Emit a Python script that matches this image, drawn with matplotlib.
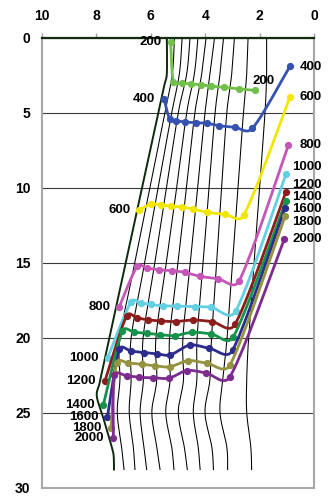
import numpy as np
import matplotlib
matplotlib.use("Agg")
import matplotlib.pyplot as plt

plt.rcParams['font.family'] = ['Liberation Sans', 'DejaVu Sans']
plt.rcParams['font.weight'] = 'bold'

# ---- free-surface curves (x position, depth) for each elapsed time ----
days = [200, 400, 600, 800, 1000, 1200, 1400, 1600, 1800, 2000]

x200 = [5.27, 5.17, 4.86, 4.52, 4.17, 3.80, 3.32, 2.77, 2.17]
d200 = [0.27, 2.93, 3.03, 3.07, 3.15, 3.22, 3.31, 3.42, 3.51]

x400 = [5.51, 5.30, 5.07, 4.74, 4.34, 3.93, 3.49, 2.92, 2.27, 0.89]
d400 = [4.11, 5.45, 5.55, 5.62, 5.67, 5.71, 5.87, 5.97, 6.04, 1.89]

x600 = [6.42, 5.98, 5.63, 5.26, 4.87, 4.45, 3.93, 3.29, 2.59, 0.89]
d600 = [11.50, 11.08, 11.15, 11.23, 11.29, 11.43, 11.65, 11.77, 11.85, 3.93]

x800 = [7.15, 6.50, 6.14, 5.69, 5.23, 4.74, 4.21, 3.55, 2.76, 0.95]
d800 = [17.93, 15.25, 15.37, 15.47, 15.54, 15.65, 15.91, 16.07, 16.23, 7.15]

x1000 = [7.58, 6.72, 6.36, 6.00, 5.56, 5.02, 4.39, 3.78, 2.89, 1.04]
d1000 = [21.35, 17.60, 17.69, 17.79, 17.88, 17.90, 17.93, 17.98, 18.25, 9.09]

x1200 = [7.68, 6.88, 6.49, 6.09, 5.62, 5.09, 4.44, 3.76, 2.91, 1.04]
d1200 = [22.89, 18.53, 18.69, 18.82, 18.89, 18.93, 18.83, 18.93, 19.12, 10.27]

x1400 = [7.74, 7.04, 6.60, 6.15, 5.67, 5.12, 4.48, 3.79, 2.97, 1.04]
d1400 = [24.49, 19.55, 19.64, 19.71, 19.80, 19.87, 19.65, 19.75, 19.95, 10.87]

x1600 = [7.59, 7.15, 6.72, 6.25, 5.78, 5.28, 4.56, 3.85, 3.00, 1.07]
d1600 = [25.27, 20.77, 20.90, 21.00, 21.08, 21.15, 20.50, 20.72, 20.85, 11.33]

x1800 = [7.46, 7.25, 6.82, 6.33, 5.84, 5.30, 4.63, 3.95, 3.09, 1.07]
d1800 = [26.04, 21.67, 21.70, 21.78, 21.88, 21.95, 21.54, 21.70, 21.82, 11.89]

x2000 = [7.37, 7.34, 6.88, 6.42, 5.90, 5.32, 4.68, 3.99, 3.09, 1.10]
d2000 = [26.67, 22.52, 22.55, 22.65, 22.68, 22.70, 22.20, 22.35, 22.60, 13.42]

# ---- embankment face ----
face_x = [5.41, 5.41, 5.506, 6.557, 7.872, 7.98, 7.75, 7.43, 7.36, 7.35]
face_d = [0.0, 2.4, 3.2, 12.0, 23.0, 23.9, 25.3, 27.3, 27.9, 28.8]

# ---- deformed mesh lines: x position of each line at the listed depths ----
mesh_d = [0.0, 2.4, 5.0, 10.0, 15.0, 20.0, 22.8, 25.0, 27.3, 28.8]
mesh_x = [
    [5.13, 5.21, 5.48, 6.03, 6.58, 7.13, 7.13, 7.23, 7.07, 6.98],
    [4.85, 4.95, 5.23, 5.73, 6.22, 6.72, 6.72, 6.79, 6.64, 6.58],
    [4.56, 4.68, 4.99, 5.42, 5.85, 6.28, 6.27, 6.39, 6.25, 6.15],
    [4.27, 4.40, 4.68, 5.05, 5.43, 5.81, 5.78, 5.96, 5.78, 5.66],
    [3.97, 4.13, 4.38, 4.69, 5.00, 5.31, 5.29, 5.45, 5.23, 5.15],
    [3.66, 3.83, 4.01, 4.28, 4.55, 4.82, 4.80, 4.99, 4.77, 4.66],
    [3.33, 3.46, 3.64, 3.86, 4.08, 4.30, 4.31, 4.44, 4.26, 4.19],
    [2.93, 3.03, 3.21, 3.40, 3.58, 3.77, 3.83, 4.01, 3.76, 3.70],
    [2.43, 2.48, 2.60, 2.80, 3.00, 3.20, 3.36, 3.46, 3.21, 3.18],
    [1.75, 1.75, 1.81, 2.01, 2.21, 2.41, 2.48, 2.48, 2.33, 2.30],
]

x_ticks = [10, 8, 6, 4, 2, 0]
y_ticks = [0, 5, 10, 15, 20, 25, 30]

series_x = [x200, x400, x600, x800, x1000, x1200, x1400, x1600, x1800, x2000]
series_d = [d200, d400, d600, d800, d1000, d1200, d1400, d1600, d1800, d2000]
colors = ['#72c04c', '#3552b0', '#f3e600', '#c457b8', '#62d0e2',
          '#8c1d1d', '#16924a', '#2c2b8e', '#959240', '#7e2b90']
# vertical placement of the right-hand time labels (depth units)
right_label_d = [None, 1.93, 3.97, 7.15, 8.64, 9.82, 10.64, 11.42, 12.27, 13.42]

# approximate screen scale of one data unit (pixels), used for smoothing
SX, SY = 27.26, 15.0


def smooth(xs, ys, n=20):
    """Bezier smoothing through every point; handles are limited to half
    of the adjacent segment so long legs only overshoot slightly."""
    p = np.column_stack([np.asarray(xs, float) * SX, np.asarray(ys, float) * SY])
    m = len(p)
    tang = np.zeros_like(p)
    for i in range(m):
        a = p[max(i - 1, 0)]
        b = p[min(i + 1, m - 1)]
        tang[i] = (b - a) / 6.0
    t = np.linspace(0, 1, n, endpoint=False)[:, None]
    out = []
    for i in range(m - 1):
        p1, p2 = p[i], p[i + 1]
        seg = np.linalg.norm(p2 - p1)
        t1, t2 = tang[i].copy(), tang[i + 1].copy()
        for tv in (t1, t2):
            L = np.linalg.norm(tv)
            if L > seg / 2.0 and L > 0:
                tv *= (seg / 2.0) / L
        c1 = p1 + t1
        c2 = p2 - t2
        out.append((1 - t) ** 3 * p1 + 3 * (1 - t) ** 2 * t * c1
                   + 3 * (1 - t) * t ** 2 * c2 + t ** 3 * p2)
    out.append(p[-1][None, :])
    out = np.vstack(out)
    return out[:, 0] / SX, out[:, 1] / SY


fig = plt.figure(figsize=(3.34, 4.97), dpi=100)
ax = fig.add_axes([0.1249, 0.0191, 0.8162, 0.905])
ax.set_xlim(10, 0)
ax.set_ylim(30, 0)

# horizontal grid
ax.set_yticks(y_ticks)
ax.set_xticks(x_ticks)
ax.yaxis.grid(True, color='#3a3a3a', lw=0.8)
ax.set_axisbelow(True)

ax.xaxis.tick_top()
ax.tick_params(axis='x', direction='out', length=3.8, width=1.0,
               color='#a0a0a0', pad=6.5, labelsize=10)
ax.tick_params(axis='y', length=0, pad=8, labelsize=10)
for lab in ax.get_xticklabels() + ax.get_yticklabels():
    lab.set_fontweight('bold')

for side in ['left', 'right', 'bottom']:
    ax.spines[side].set_color('#a8a8a8')
    ax.spines[side].set_linewidth(1.5)
ax.spines['top'].set_color('#142c12')
ax.spines['top'].set_linewidth(1.6)

# mesh lines
for mx in mesh_x:
    sx, sy = smooth(mx, mesh_d)
    ax.plot(sx, sy, color='black', lw=0.75, zorder=2)

# embankment face
fx, fy = smooth(face_x, face_d)
ax.plot(fx, fy, color='#0c2a0c', lw=1.4, zorder=3)

# free-surface curves
LABEL_FS = 9.5
for k, (xs, ds, c, day) in enumerate(zip(series_x, series_d, colors, days)):
    sx, sy = smooth(xs, ds)
    ax.plot(sx, sy, color=c, lw=2.0, zorder=4 + k, solid_capstyle='round')
    ax.plot(xs, ds, 'o', color=c, ms=4.2, zorder=4 + k)
    ax.annotate(str(day), (xs[0], ds[0]), xytext=(-6.5, 0),
                textcoords='offset points', ha='right', va='center',
                fontsize=LABEL_FS, fontweight='bold', annotation_clip=False)
    if right_label_d[k] is None:
        ax.annotate(str(day), (xs[-1], ds[-1]), xytext=(6, 6.9),
                    textcoords='offset points', ha='center', va='center',
                    fontsize=LABEL_FS, fontweight='bold', annotation_clip=False)
    else:
        ax.text(1.028, right_label_d[k], str(day),
                transform=ax.get_yaxis_transform(), ha='right', va='center',
                fontsize=LABEL_FS, fontweight='bold', clip_on=False)

fig.savefig('out.png', dpi=100)
